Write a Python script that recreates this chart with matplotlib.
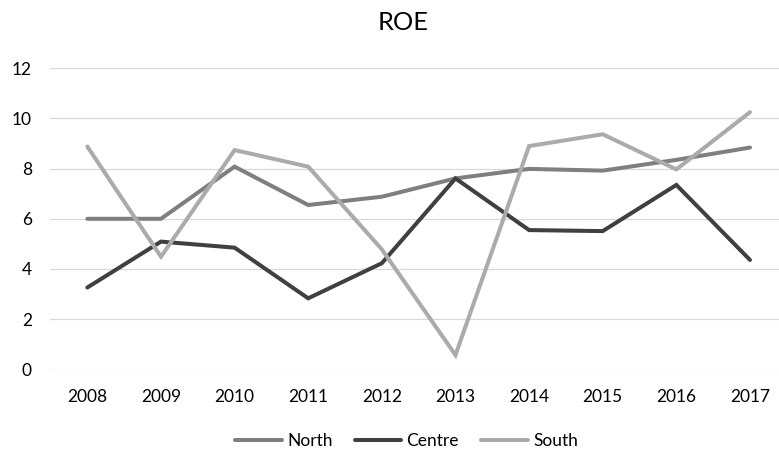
import matplotlib.pyplot as plt

plt.rcParams['font.family'] = ['Lato', 'DejaVu Sans']

years = ['2008', '2009', '2010', '2011', '2012', '2013', '2014', '2015', '2016', '2017']
north = [6.0, 6.0, 8.08, 6.55, 6.88, 7.61, 7.99, 7.92, 8.35, 8.84]
centre = [3.26, 5.09, 4.85, 2.83, 4.23, 7.61, 5.55, 5.51, 7.35, 4.36]
south = [8.88, 4.49, 8.74, 8.08, 4.78, 0.57, 8.9, 9.37, 7.97, 10.25]
y_ticks = [0, 2, 4, 6, 8, 10, 12]

W, H = 779, 450
fig = plt.figure(figsize=(W / 100, H / 100), dpi=100)
ax = fig.add_axes([50 / W, (H - 369.3) / H, (W - 50) / W, 301 / H])

x = list(range(len(years)))
lw = 2.9
ax.plot(x, north, color='#7f7f7f', lw=lw, solid_capstyle='round', solid_joinstyle='miter', label='North', zorder=3)
ax.plot(x, centre, color='#404040', lw=lw, solid_capstyle='round', solid_joinstyle='miter', label='Centre', zorder=3)
ax.plot(x, south, color='#ababab', lw=lw, solid_capstyle='round', solid_joinstyle='miter', label='South', zorder=3)

ax.set_xlim(-0.507, 9.394)
ax.set_ylim(0, 12)
ax.set_yticks(y_ticks)
ax.set_xticks(x)
ax.set_xticklabels(years)
ax.grid(axis='y', color='#d9d9d9', lw=0.9, zorder=0)
for s in ax.spines.values():
    s.set_visible(False)
ax.tick_params(axis='both', length=0, labelsize=12.5, colors='#000000')
ax.tick_params(axis='y', pad=13)
ax.tick_params(axis='x', pad=14)

fig.text(403 / W, (H - 30) / H, 'ROE', ha='center', va='baseline', fontsize=18.3)

fig.legend(loc='center', bbox_to_anchor=(406.5 / W, (H - 440.7) / H), ncol=3, frameon=False,
           fontsize=12.5, handlelength=2.7, handletextpad=0.3, columnspacing=1.26)

fig.savefig('out.png', dpi=100)
